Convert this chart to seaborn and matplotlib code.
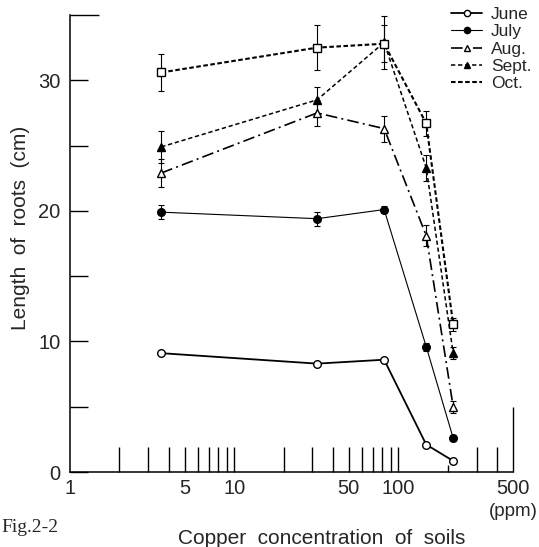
import numpy as np
import pandas as pd
import seaborn as sns
import matplotlib
matplotlib.use("Agg")
import matplotlib.pyplot as plt
from matplotlib.lines import Line2D

# Copper concentration of soils (ppm)
copper_ppm = [3.6, 32, 82, 148, 216]

# Mean root length (cm) per sampling month
june = [9.1, 8.3, 8.6, 2.1, 0.85]
july = [19.9, 19.4, 20.1, 9.6, 2.6]
aug = [22.9, 27.5, 26.3, 18.1, 5.0]
sept = [24.9, 28.5, 32.9, 23.3, 9.1]
octo = [30.6, 32.5, 32.8, 26.7, 11.3]

# Error-bar half widths (cm)
june_err = [0.0, 0.0, 0.0, 0.0, 0.0]
july_err = [0.55, 0.55, 0.3, 0.3, 0.2]
aug_err = [1.1, 1.0, 1.0, 0.8, 0.45]
sept_err = [1.2, 1.0, 2.0, 1.0, 0.45]
octo_err = [1.4, 1.7, 1.4, 0.95, 0.5]

months = ["June", "July", "Aug.", "Sept.", "Oct."]

sns.set_theme(style="white")
plt.rcParams["font.family"] = ["Liberation Sans", "DejaVu Sans"]

fig = plt.figure(figsize=(5.39, 5.47), dpi=100)
ax = fig.add_axes([70 / 539, 1 - 472 / 547, (513 - 70) / 539, (472 - 15) / 547])

styles = {
    "June": dict(ls="-", lw=1.3, marker="o", mfc="white", ms=5.5),
    "July": dict(ls="-", lw=0.8, marker="o", mfc="black", ms=5.5),
    "Aug.": dict(ls=(0, (7, 2.5, 1.2, 2.5)), lw=1.2, marker="^", mfc="white", ms=6),
    "Sept.": dict(ls=(0, (2.8, 1.8)), lw=1.1, marker="^", mfc="black", ms=6),
    "Oct.": dict(ls=(0, (2.2, 1.2)), lw=1.5, marker="s", mfc="white", ms=5.5),
}

series = [june, july, aug, sept, octo]
errors = [june_err, july_err, aug_err, sept_err, octo_err]

for name, vals, errs in zip(months, series, errors):
    st = styles[name]
    df = pd.DataFrame({"ppm": copper_ppm, "length": vals})
    ax.errorbar(copper_ppm, vals, yerr=errs, fmt="none", ecolor="black",
                elinewidth=0.8, capsize=2, capthick=0.8, zorder=2)
    sns.lineplot(data=df, x="ppm", y="length", ax=ax, color="black",
                 linestyle=st["ls"], linewidth=st["lw"], marker=st["marker"],
                 markersize=st["ms"], markerfacecolor=st["mfc"],
                 markeredgecolor="black", markeredgewidth=1.0,
                 errorbar=None, zorder=3)

ax.set_xscale("log")
ax.set_xlim(1, 500)
ax.set_ylim(0, 35)

# Spines: left and bottom only
for side in ["top", "right"]:
    ax.spines[side].set_visible(False)
for side in ["left", "bottom"]:
    ax.spines[side].set_color("black")
    ax.spines[side].set_linewidth(1.1)

# X ticks: inward, labelled at 1, 5, 10, 50, 100, 500
x_major = [1, 5, 10, 50, 100, 500]
x_minor = [2, 3, 4, 6, 7, 8, 9, 20, 30, 40, 60, 70, 80, 90, 200, 300, 400]
ax.set_xticks(x_major)
ax.set_xticklabels([str(v) for v in x_major])
ax.set_xticks(x_minor, minor=True)
ax.xaxis.set_minor_formatter(matplotlib.ticker.NullFormatter())
ax.tick_params(axis="x", which="both", direction="in", length=18, width=1.0,
               color="black", labelsize=14.5, pad=5, bottom=True)
for t, v in zip(ax.xaxis.get_major_ticks(), x_major):
    if v == 1:
        t.tick1line.set_markersize(0)
    if v == 500:
        t.tick1line.set_markersize(47)
for t, v in zip(ax.xaxis.get_minor_ticks(), x_minor):
    if v == 200:
        t.tick1line.set_markersize(5)

# Y ticks: inward, labelled every 10 cm
ax.set_yticks([0, 10, 20, 30])
ax.set_yticks([5, 15, 25, 35], minor=True)
ax.tick_params(axis="y", which="both", direction="in", length=13, width=1.0,
               color="black", labelsize=14.5, pad=7, left=True)
ax.yaxis.get_minor_ticks()[-1].tick1line.set_markersize(21)

ax.set_xlabel("")
ax.set_ylabel("Length  of  roots  (cm)", fontsize=15, labelpad=6)
ax.yaxis.set_label_coords(-0.09, 0.535)
ax.grid(False)

fig.text(322 / 539, 1 - 538 / 547, "Copper  concentration  of  soils",
         ha="center", va="center", fontsize=15)
fig.text(538 / 539, 1 - 511 / 547, "(ppm)", ha="right", va="center", fontsize=13.5)
fig.text(1 / 539, 1 - 527 / 547, "Fig.2-2", ha="left", va="center",
         fontsize=14, family=["Liberation Serif", "DejaVu Serif"])

handles = []
for name in months:
    st = styles[name]
    mk = st["marker"] if name != "Oct." else "None"
    handles.append(Line2D([0], [0], color="black", linestyle=st["ls"],
                          linewidth=st["lw"], marker=mk, markersize=4.5,
                          markerfacecolor=st["mfc"], markeredgecolor="black",
                          markevery=[1]))
leg = fig.legend(handles, months, loc="upper left",
                 bbox_to_anchor=(451 / 539, 1 - 7 / 547), frameon=False,
                 fontsize=12.5, handlelength=1.8, handletextpad=0.5,
                 labelspacing=0.12, borderaxespad=0, borderpad=0)

fig.savefig("out.png", dpi=100)
